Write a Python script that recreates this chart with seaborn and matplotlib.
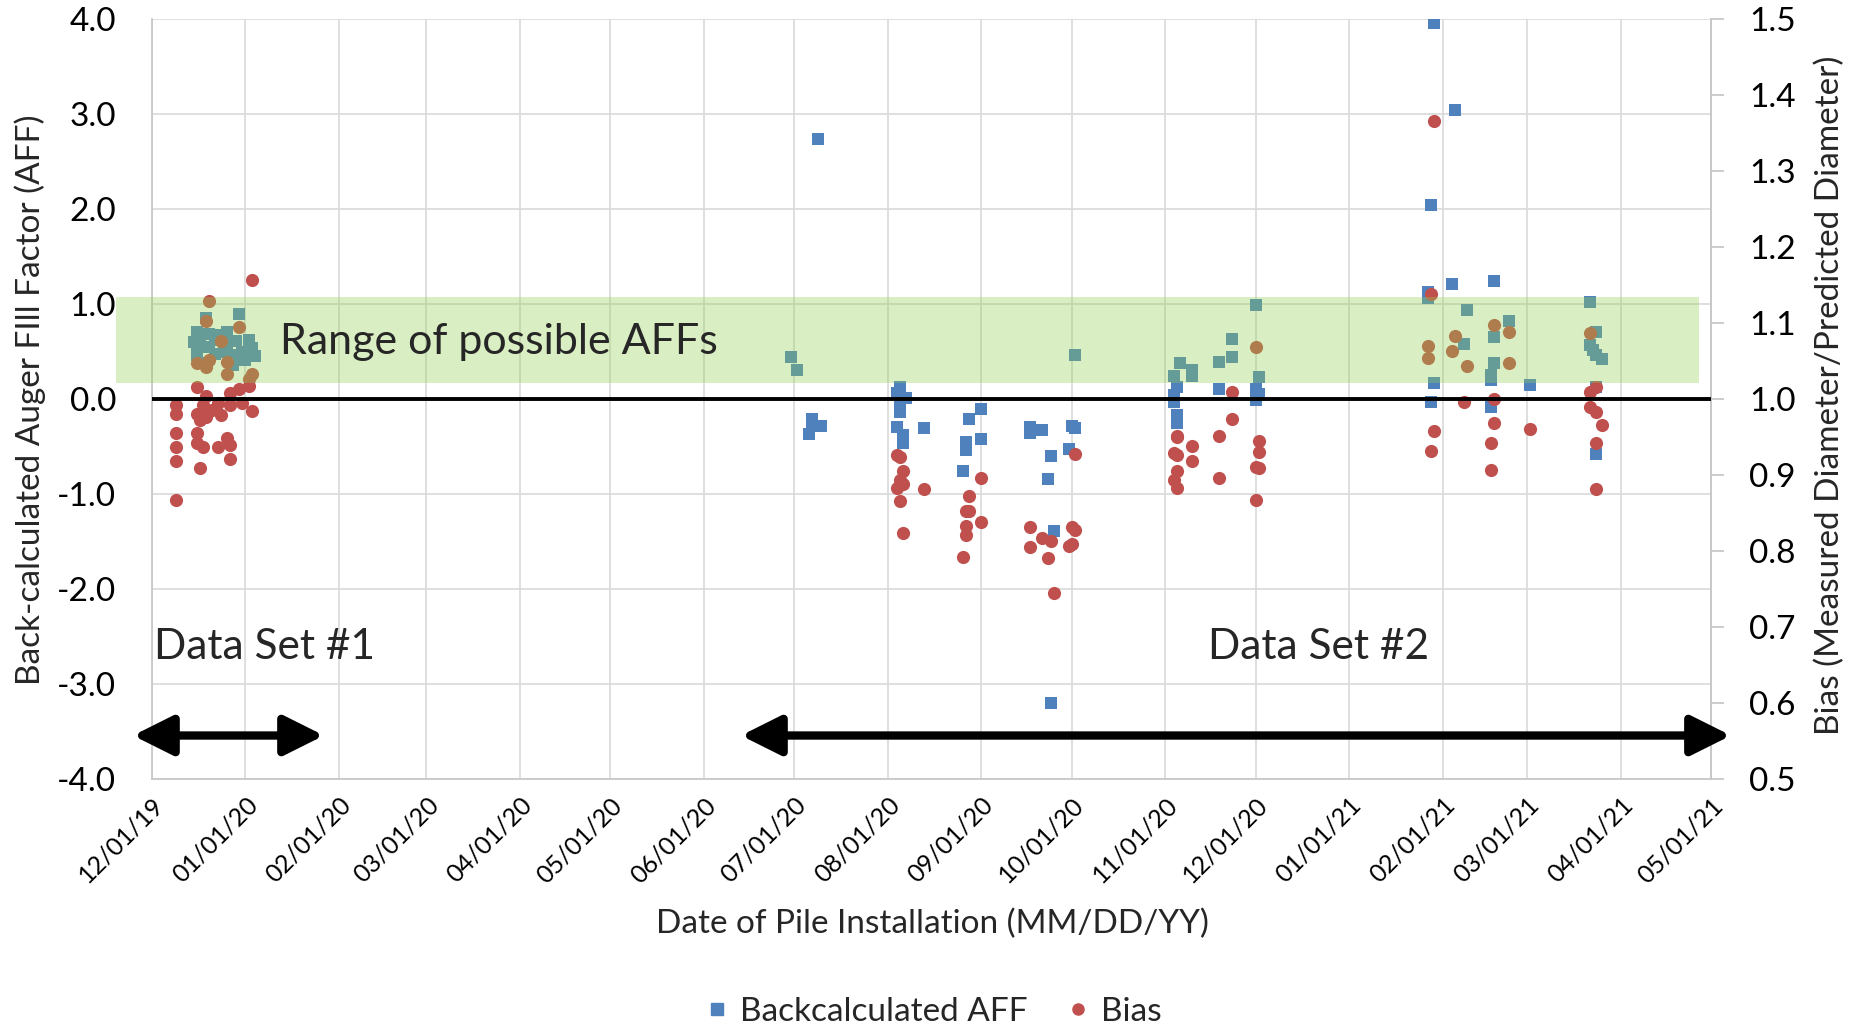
import numpy as np
import pandas as pd
import matplotlib
matplotlib.use("Agg")
import matplotlib.pyplot as plt
import matplotlib.dates as mdates
from matplotlib.patches import Rectangle
from matplotlib.lines import Line2D
import seaborn as sns

# ---------------- data ----------------
aff_dates = [
    # Data set 1
    "2019-12-30", "2019-12-19", "2019-12-16", "2019-12-16", "2019-12-16", "2019-12-20",
    "2019-12-20", "2019-12-22", "2019-12-26", "2019-12-26", "2019-12-28", "2019-12-28",
    "2019-12-29", "2019-12-31", "2020-01-02", "2020-01-03", "2020-01-04", "2019-12-18",
    "2019-12-15", "2019-12-22", "2019-12-24", "2020-01-01", "2019-12-17", "2019-12-25",
    # Data set 2
    "2020-07-09", "2020-06-30", "2020-07-02", "2020-07-07", "2020-07-10", "2020-07-06", "2020-07-07",
    "2020-08-05", "2020-08-04", "2020-08-07", "2020-08-05", "2020-08-05", "2020-08-04",
    "2020-08-06", "2020-08-06", "2020-08-13",
    "2020-09-01", "2020-08-28", "2020-08-27", "2020-08-27", "2020-09-01", "2020-08-26",
    "2020-09-17", "2020-09-17", "2020-09-21", "2020-09-24", "2020-09-23", "2020-09-25",
    "2020-09-24", "2020-10-02", "2020-10-01", "2020-09-30", "2020-10-02",
    "2020-12-01", "2020-11-23", "2020-11-23", "2020-11-19", "2020-11-06", "2020-11-10",
    "2020-11-10", "2020-11-04", "2020-12-02", "2020-11-05", "2020-11-19", "2020-11-04",
    "2020-11-04", "2020-12-01", "2020-12-01", "2020-11-05", "2020-11-05", "2020-12-02",
    "2021-01-29", "2021-02-05", "2021-01-28", "2021-02-04", "2021-02-18", "2021-01-27",
    "2021-01-27", "2021-02-09", "2021-02-23", "2021-02-18", "2021-02-08", "2021-02-18",
    "2021-02-17", "2021-02-17", "2021-01-29", "2021-03-02", "2021-01-28", "2021-02-17",
    "2021-03-22", "2021-03-24", "2021-03-22", "2021-03-23", "2021-03-24", "2021-03-26",
    "2021-03-24", "2021-03-24",
]
aff_values = [
    0.90, 0.85, 0.71, 0.57, 0.47, 0.69,
    0.55, 0.48, 0.71, 0.59, 0.47, 0.36,
    0.61, 0.50, 0.62, 0.54, 0.45, 0.38,
    0.60, 0.62, 0.68, 0.41, 0.65, 0.50,
    2.74, 0.44, 0.31, -0.21, -0.28, -0.37, -0.28,
    0.13, 0.06, 0.01, -0.13, -0.04, -0.29,
    -0.38, -0.46, -0.30,
    -0.10, -0.21, -0.45, -0.53, -0.42, -0.76,
    -0.29, -0.36, -0.32, -0.60, -0.84, -1.39,
    -3.20, -0.30, -0.28, -0.52, 0.47,
    0.99, 0.63, 0.44, 0.39, 0.38, 0.31,
    0.24, 0.24, 0.23, 0.13, 0.11, 0.04,
    -0.03, 0.11, -0.01, -0.17, -0.25, 0.05,
    3.96, 3.04, 2.04, 1.21, 1.24, 1.13,
    1.06, 0.94, 0.82, 0.65, 0.58, 0.38,
    0.25, 0.20, 0.17, 0.15, -0.03, -0.08,
    1.02, 0.71, 0.57, 0.52, 0.47, 0.42,
    0.13, -0.58,
]

bias_dates = [
    # Data set 1
    "2020-01-03", "2019-12-20", "2019-12-19", "2019-12-30", "2019-12-24", "2019-12-16",
    "2019-12-20", "2019-12-19", "2019-12-26", "2019-12-26", "2020-01-03", "2020-01-02",
    "2019-12-16", "2019-12-09", "2019-12-09", "2019-12-19", "2019-12-18", "2019-12-16",
    "2019-12-17", "2019-12-19", "2019-12-21", "2019-12-23", "2019-12-24", "2019-12-27",
    "2019-12-27", "2019-12-30", "2019-12-31", "2020-01-02", "2020-01-03", "2019-12-09",
    "2019-12-09", "2019-12-09", "2019-12-16", "2019-12-16", "2019-12-18", "2019-12-17",
    "2019-12-23", "2019-12-26", "2019-12-27", "2019-12-27", "2019-12-09",
    # Data set 2
    "2020-08-04", "2020-08-05", "2020-08-06", "2020-08-05", "2020-08-04", "2020-08-06",
    "2020-08-13", "2020-08-05", "2020-08-06",
    "2020-09-01", "2020-08-28", "2020-08-27", "2020-08-28", "2020-08-27", "2020-08-27",
    "2020-09-01", "2020-08-26",
    "2020-10-02", "2020-09-17", "2020-09-17", "2020-09-21", "2020-09-24", "2020-09-23",
    "2020-09-25", "2020-10-01", "2020-10-02", "2020-09-30", "2020-10-01",
    "2020-12-01", "2020-11-23", "2020-11-23", "2020-11-19", "2020-11-05", "2020-11-05",
    "2020-11-10", "2020-11-04", "2020-11-05", "2020-11-10", "2020-11-05", "2020-11-04",
    "2020-11-05", "2020-11-19", "2020-12-02", "2020-12-02", "2020-12-01", "2020-12-02",
    "2020-12-01",
    "2021-01-29", "2021-01-28", "2021-02-18", "2021-02-23", "2021-02-05", "2021-01-27",
    "2021-02-04", "2021-01-27", "2021-02-09", "2021-02-23", "2021-02-08", "2021-02-18",
    "2021-01-29", "2021-01-28", "2021-02-18", "2021-02-17", "2021-02-17", "2021-03-02",
    "2021-03-22", "2021-03-24", "2021-03-22", "2021-03-22", "2021-03-24", "2021-03-26",
    "2021-03-24", "2021-03-24",
]
bias_values = [
    1.157, 1.129, 1.103, 1.095, 1.076, 1.048,
    1.052, 1.042, 1.049, 1.033, 1.033, 1.027,
    1.016, 0.993, 0.981, 1.004, 0.992, 0.981,
    0.973, 0.977, 0.986, 0.995, 0.979, 1.008,
    0.992, 1.013, 0.995, 1.017, 0.984, 0.955,
    0.9375, 0.919, 0.955, 0.943, 0.9375, 0.910,
    0.9375, 0.949, 0.940, 0.922, 0.867,
    0.926, 0.924, 0.906, 0.894, 0.883, 0.888,
    0.882, 0.8665, 0.8245,
    0.897, 0.873, 0.853, 0.853, 0.833, 0.821,
    0.839, 0.792,
    0.928, 0.832, 0.805, 0.817, 0.814, 0.791,
    0.745, 0.832, 0.828, 0.807, 0.809,
    1.068, 1.009, 0.9735, 0.952, 0.952, 0.950,
    0.9385, 0.929, 0.927, 0.919, 0.905, 0.894,
    0.883, 0.896, 0.9455, 0.930, 0.911, 0.909,
    0.8675,
    1.366, 1.138, 1.098, 1.088, 1.0835, 1.070,
    1.063, 1.054, 1.044, 1.047, 0.996, 1.000,
    0.958, 0.932, 0.969, 0.943, 0.907, 0.961,
    1.0866, 1.016, 1.010, 0.990, 0.983, 0.966,
    0.943, 0.882,
]

aff_ticks = [-4.0, -3.0, -2.0, -1.0, 0.0, 1.0, 2.0, 3.0, 4.0]
bias_ticks = [0.5, 0.6, 0.7, 0.8, 0.9, 1.0, 1.1, 1.2, 1.3, 1.4, 1.5]
x_start, x_end = "2019-12-01", "2021-05-01"
band_aff = [0.175, 1.075]
band_dates = ["2019-11-19", "2021-04-27"]

aff_df = pd.DataFrame({"date": pd.to_datetime(aff_dates), "AFF": aff_values})
bias_df = pd.DataFrame({"date": pd.to_datetime(bias_dates), "Bias": bias_values})

# ---------------- style ----------------
sns.set_theme(style="white")
plt.rcParams["font.family"] = ["Lato", "DejaVu Sans"]
plt.rcParams["axes.unicode_minus"] = False

BLUE = "#4F81BD"
RED = "#C0504D"
GRID = "#d9d9d9"

fig = plt.figure(figsize=(18.63, 10.27), dpi=100)
ax = fig.add_axes([0.0816, 0.2411, 0.8368, 0.7404])
ax2 = ax.twinx()

sns.scatterplot(data=aff_df, x="date", y="AFF", ax=ax, marker="s", s=85,
                color=BLUE, linewidth=0, zorder=3, legend=False)
sns.scatterplot(data=bias_df, x="date", y="Bias", ax=ax2, marker="o", s=90,
                color=RED, linewidth=0, zorder=3, legend=False)

# limits
xmin = mdates.date2num(pd.Timestamp(x_start))
xmax = mdates.date2num(pd.Timestamp(x_end))
ax.set_xlim(xmin, xmax)
ax.set_ylim(aff_ticks[0], aff_ticks[-1])
ax2.set_ylim(bias_ticks[0], bias_ticks[-1])

# ticks
month_ticks = pd.date_range(x_start, x_end, freq="MS")
ax.set_xticks(mdates.date2num(month_ticks))
ax.xaxis.set_major_formatter(mdates.DateFormatter("%m/%d/%y"))
ax.set_yticks(aff_ticks)
ax.set_yticklabels([f"{v:.1f}" for v in aff_ticks])
ax2.set_yticks(bias_ticks)
ax2.set_yticklabels([f"{v:.1f}" for v in bias_ticks])

for lab in ax.get_xticklabels():
    lab.set_rotation(45)
    lab.set_ha("right")
    lab.set_va("top")
    lab.set_rotation_mode("anchor")

ax.tick_params(axis="x", length=0, pad=10, labelsize=18, colors="black")
ax.tick_params(axis="y", length=0, pad=26, labelsize=24, colors="black")
ax2.tick_params(axis="y", length=9.5, width=1.1, color="#bfbfbf", pad=18,
                labelsize=24, labelcolor="black")

# grid & spines
ax.grid(True, color=GRID, linewidth=1.2)
ax.set_axisbelow(True)
for sp in ["top"]:
    ax.spines[sp].set_visible(False)
    ax2.spines[sp].set_visible(False)
for sp in ["left", "bottom", "right"]:
    ax.spines[sp].set_color("#c8c8c8")
    ax.spines[sp].set_linewidth(1.3)
ax2.spines["left"].set_visible(False)
ax2.spines["bottom"].set_visible(False)
ax2.spines["right"].set_color("#c8c8c8")
ax2.spines["right"].set_linewidth(1.3)

# zero line
ax2.axhline(1.0, color="black", linewidth=2.8, zorder=6)

# green band (semi transparent, above the markers)
bx0 = mdates.date2num(pd.Timestamp(band_dates[0]))
bx1 = mdates.date2num(pd.Timestamp(band_dates[1]))
band = Rectangle((bx0, band_aff[0]), bx1 - bx0, band_aff[1] - band_aff[0],
                 transform=ax.transData, facecolor="#92D050", alpha=0.35,
                 edgecolor="none", zorder=5, clip_on=False)
ax2.add_patch(band)

# texts
ax2.text(0.0821, 0.575, "Range of possible AFFs", transform=ax2.transAxes,
         fontsize=31, ha="left", va="center", zorder=10)
ax2.text(0.0013, 0.1735, "Data Set #1", transform=ax2.transAxes,
         fontsize=30.5, ha="left", va="center", zorder=10)
ax2.text(0.6774, 0.1735, "Data Set #2", transform=ax2.transAxes,
         fontsize=30.5, ha="left", va="center", zorder=10)

arrow_kw = dict(arrowstyle="<|-|>,head_length=1.2,head_width=0.6",
                color="black", lw=6, shrinkA=0, shrinkB=0, mutation_scale=20)
ax2.annotate("", xy=(-0.0122, 0.0577), xytext=(0.1103, 0.0577),
             xycoords="axes fraction", textcoords="axes fraction",
             arrowprops=arrow_kw, annotation_clip=False, zorder=10)
ax2.annotate("", xy=(0.3778, 0.0577), xytext=(1.0128, 0.0577),
             xycoords="axes fraction", textcoords="axes fraction",
             arrowprops=arrow_kw, annotation_clip=False, zorder=10)

# axis labels
ax.set_xlabel("Date of Pile Installation (MM/DD/YY)", fontsize=24)
ax.xaxis.set_label_coords(0.5005, -0.190)
ax.xaxis.label.set_va("center")
ax.set_ylabel("Back-calculated Auger FIll Factor (AFF)", fontsize=24)
ax.yaxis.set_label_coords(-0.0783, 0.499)
ax.yaxis.label.set_va("center")
ax2.set_ylabel("Bias (Measured Diameter/Predicted Diameter)", fontsize=24)
ax2.yaxis.set_label_coords(1.0763, 0.505)
ax2.yaxis.label.set_va("center")

# legend
handles = [
    Line2D([], [], marker="s", linestyle="none", color=BLUE, markersize=8),
    Line2D([], [], marker="o", linestyle="none", color=RED, markersize=8),
]
fig.legend(handles, ["Backcalculated AFF", "Bias"], loc="center",
           bbox_to_anchor=(0.5005, 0.0150), ncol=2, frameon=False, fontsize=24,
           handletextpad=0.3, columnspacing=1.1, handlelength=0.8)

fig.savefig("out.png", dpi=100)
